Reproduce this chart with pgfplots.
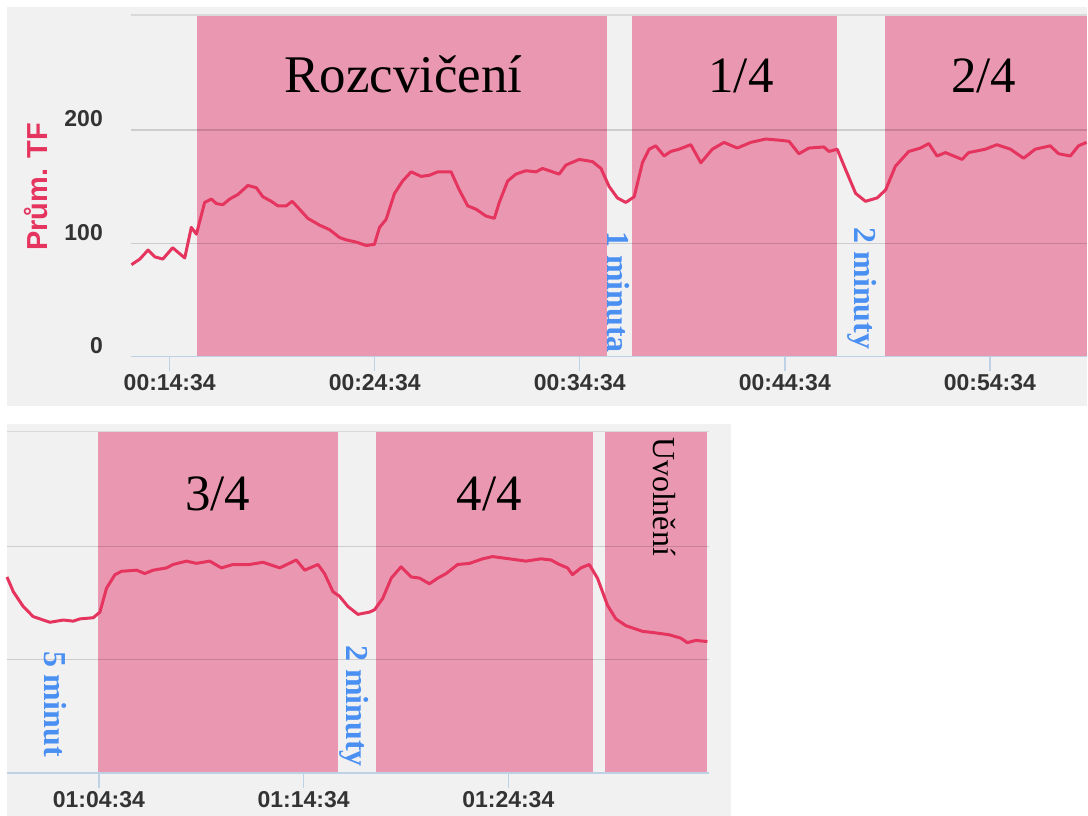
\documentclass[border=0pt]{standalone}
\usepackage{pgfplots}
\usepackage{pgfplotstable}
\pgfplotsset{compat=1.18}
\usepackage{fontspec}
\setmainfont{Liberation Serif}
\newfontfamily\arial{Liberation Sans}

\definecolor{panelbg}{HTML}{F1F1F1}
\definecolor{band}{HTML}{EA97B2}
\definecolor{hr}{HTML}{E5355F}
\definecolor{axblue}{HTML}{BED2E6}
\definecolor{gaptext}{HTML}{4A8FF2}
\definecolor{ticktext}{HTML}{333333}

% heart rate, minutes from start vs. bpm
\pgfplotstableread{
t bpm
12.70 81
13.11 86
13.51 94
13.84 88
14.23 86
14.71 96
15.30 87
15.62 114
15.87 108
16.27 136
16.60 139
16.84 135
17.16 134
17.49 139
17.89 143
18.38 151
18.79 149
19.11 141
19.52 137
19.84 133
20.25 133
20.54 137
20.90 130
21.30 122
21.87 116
22.36 112
22.85 105
23.17 103
23.66 101
24.15 98
24.55 99
24.80 114
25.12 121
25.53 144
25.93 155
26.34 163
26.83 159
27.23 160
27.64 163
28.29 163
28.69 147
29.10 133
29.51 130
29.99 124
30.40 122
30.64 136
31.05 155
31.45 161
31.94 164
32.43 163
32.75 166
33.24 163
33.56 161
33.89 169
34.54 174
35.19 172
35.60 166
36.00 150
36.40 140
36.81 136
37.22 141
37.62 171
37.95 183
38.27 186
38.68 177
39.00 181
39.41 183
39.98 187
40.47 171
41.03 183
41.60 189
42.25 184
42.90 189
43.63 192
44.28 191
44.77 190
45.25 179
45.74 184
46.47 185
46.72 181
47.12 183
47.53 165
48.02 144
48.50 137
49.07 140
49.48 147
49.96 168
50.61 181
51.18 184
51.59 188
51.99 177
52.40 180
53.21 174
53.53 180
54.35 183
54.91 187
55.57 183
56.21 175
56.78 183
57.51 186
57.92 179
58.49 177
58.89 186
59.28 189
}\hrtop

\pgfplotstableread{
t bpm
60.08 173
60.39 160
60.87 147
61.36 138
62.18 133
62.83 135
63.31 134
63.64 136
64.29 137
64.62 142
64.94 163
65.35 175
65.67 178
66.41 179
66.81 176
67.22 179
67.87 181
68.19 184
68.85 187
69.33 185
69.98 187
70.55 181
71.12 184
71.93 184
72.58 186
73.40 181
74.21 188
74.62 179
75.27 184
75.59 176
76.00 160
76.32 156
76.73 147
77.22 140
77.79 142
78.03 144
78.43 154
78.85 172
79.33 182
79.82 173
80.23 172
80.71 167
81.12 172
81.53 176
82.09 184
82.67 185
83.31 189
83.80 191
84.62 189
85.43 187
86.16 189
86.65 188
87.06 184
87.46 181
87.70 175
88.11 181
88.52 184
88.92 172
89.41 148
89.82 136
90.31 130
91.12 125
91.61 124
92.42 122
92.99 119
93.31 115
93.72 117
94.29 116
}\hrbottom

\pgfplotsset{
  hrpanel/.style={
    scale only axis, height=171pt,
    ymin=0, ymax=301.5,
    clip=false,
    axis line style={draw=none},
    tick align=outside,
    xtick pos=bottom, ytick pos=left,
    major tick length=7.5pt,
    xtick style={axblue, line width=0.7pt},
    ytick style={draw=none},
    tick label style={font=\arial\bfseries\fontsize{11.5}{12}\selectfont, text=ticktext},
    xticklabel style={yshift=2pt},
  },
  bandfill/.style={fill=band, draw=none},
}
\tikzset{
  gridl/.style={black, opacity=0.15, line width=0.6pt},
  stage/.style={font=\fontsize{25.5}{26}\selectfont, anchor=base},
  gap/.style={font=\bfseries\fontsize{16}{16}\selectfont, text=gaptext, rotate=-90},
}

\begin{document}
\begin{tikzpicture}
\fill[white] (0,0) rectangle (544pt,-408.5pt);
\fill[panelbg] (3.5pt,-3.5pt) rectangle (544pt,-203.5pt);
\fill[panelbg] (3.5pt,-212.5pt) rectangle (366pt,-408.5pt);

\node[rotate=90, font=\arial\bfseries\fontsize{14.5}{15}\selectfont, text=hr] at (18pt,-93.5pt) {Prům. TF};

% upper part
\begin{axis}[hrpanel,
  at={(65.5pt,-178.5pt)}, anchor=south west,
  width=478.5pt,
  xmin=12.67, xmax=59.28,
  xtick={14.567,24.567,34.567,44.567,54.567},
  xticklabels={00:14:34,00:24:34,00:34:34,00:44:34,00:54:34},
  ytick={0,100,200}, yticklabels={0,100,200},
  yticklabel style={xshift=-3pt, yshift=5.5pt},
]
\addplot[bandfill] coordinates {(15.88,0) (15.88,301.5) (35.9,301.5) (35.9,0)} -- cycle;
\addplot[bandfill] coordinates {(37.12,0) (37.12,301.5) (47.1,301.5) (47.1,0)} -- cycle;
\addplot[bandfill] coordinates {(49.44,0) (49.44,301.5) (59.28,301.5) (59.28,0)} -- cycle;
\draw[gridl] (axis cs:12.67,100) -- (axis cs:59.28,100);
\draw[gridl] (axis cs:12.67,200) -- (axis cs:59.28,200);
\draw[black!15, line width=0.8pt] (axis cs:12.67,301.5) -- (axis cs:59.28,301.5);
\draw[axblue, line width=0.8pt] (axis cs:12.67,0) -- (axis cs:59.28,0);
\node[stage, font=\fontsize{26.5}{27}\selectfont] at (axis cs:25.97,233) {Rozcvičení};
\node[stage] at (axis cs:42.43,233) {1/4};
\node[stage] at (axis cs:54.26,233) {2/4};
\node[gap] at (axis cs:36.45,57) {1 minuta};
\node[gap] at (axis cs:48.32,60) {2 minuty};
\addplot[hr, line width=1.5pt, line join=round] table[x=t, y=bpm] {\hrtop};
\end{axis}

% lower part
\begin{axis}[hrpanel,
  at={(3.5pt,-387pt)}, anchor=south west,
  width=351.5pt,
  xmin=60.08, xmax=94.37,
  xtick={64.567,74.567,84.567},
  xticklabels={01:04:34,01:14:34,01:24:34},
  ytick=\empty,
]
\addplot[bandfill] coordinates {(64.52,0) (64.52,301.5) (76.23,301.5) (76.23,0)} -- cycle;
\addplot[bandfill] coordinates {(78.08,0) (78.08,301.5) (88.71,301.5) (88.71,0)} -- cycle;
\addplot[bandfill] coordinates {(89.27,0) (89.27,301.5) (94.25,301.5) (94.25,0)} -- cycle;
\draw[gridl] (axis cs:60.08,100) -- (axis cs:94.37,100);
\draw[gridl] (axis cs:60.08,200) -- (axis cs:94.37,200);
\draw[black!15, line width=0.8pt] (axis cs:60.08,301.5) -- (axis cs:94.37,301.5);
\draw[axblue, line width=0.8pt] (axis cs:60.08,0) -- (axis cs:94.37,0);
\node[stage] at (axis cs:70.37,232) {3/4};
\node[stage] at (axis cs:83.64,232) {4/4};
\node[rotate=-90, font=\fontsize{16}{16}\selectfont] at (axis cs:92.18,244) {Uvolnění};
\node[gap] at (axis cs:62.42,61) {5 minut};
\node[gap] at (axis cs:77.05,59) {2 minuty};
\addplot[hr, line width=1.5pt, line join=round] table[x=t, y=bpm] {\hrbottom};
\end{axis}
\end{tikzpicture}
\end{document}
